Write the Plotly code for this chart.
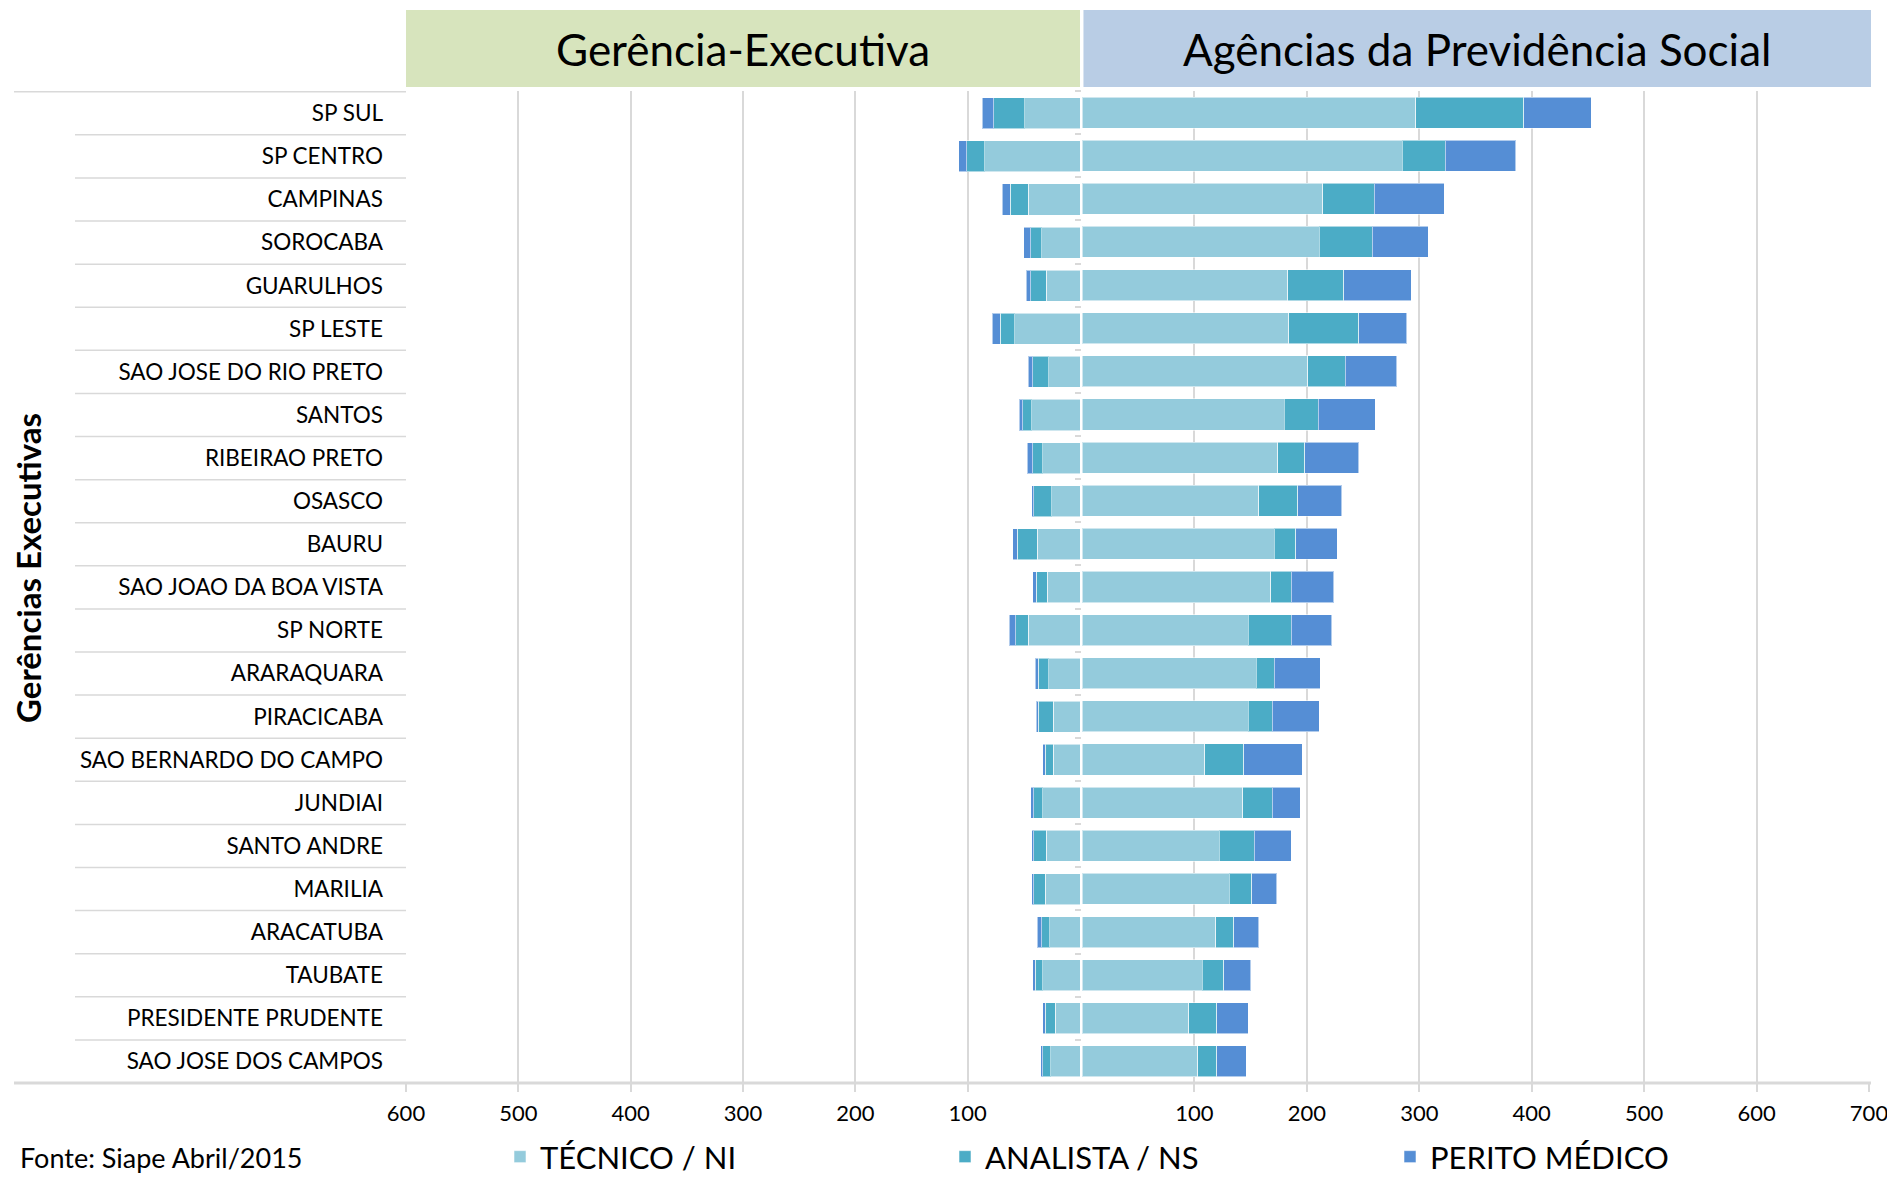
import plotly.graph_objects as go

categories = ["SP SUL", "SP CENTRO", "CAMPINAS", "SOROCABA", "GUARULHOS", "SP LESTE",
              "SAO JOSE DO RIO PRETO", "SANTOS", "RIBEIRAO PRETO", "OSASCO", "BAURU",
              "SAO JOAO DA BOA VISTA", "SP NORTE", "ARARAQUARA", "PIRACICABA",
              "SAO BERNARDO DO CAMPO", "JUNDIAI", "SANTO ANDRE", "MARILIA", "ARACATUBA",
              "TAUBATE", "PRESIDENTE PRUDENTE", "SAO JOSE DOS CAMPOS"]

# Gerência-Executiva (left side)
ge_tecnico = [49, 85, 46, 34, 30, 58, 28, 43, 33, 25, 38, 29, 46, 28, 24, 24, 33, 30, 31, 27, 33, 22, 26]
ge_analista = [28, 16, 16, 10, 14, 13, 14, 8, 9, 16, 18, 10, 11, 9, 13, 7, 8, 11, 10, 7, 7, 9, 7]
ge_perito = [10, 7, 7, 6, 4, 7, 4, 3, 5, 2, 4, 3, 6, 3, 2, 2, 3, 2, 2, 4, 2, 2, 2]

# Agências da Previdência Social (right side)
aps_tecnico = [297, 285, 214, 211, 183, 184, 201, 180, 174, 157, 171, 168, 148, 155, 148, 109, 143, 122, 131, 119, 107, 95, 103]
aps_analista = [96, 38, 46, 47, 50, 62, 33, 30, 24, 35, 19, 18, 38, 16, 21, 35, 26, 31, 20, 16, 19, 25, 17]
aps_perito = [60, 63, 62, 50, 60, 43, 46, 51, 48, 39, 37, 38, 36, 41, 42, 52, 25, 33, 22, 22, 24, 28, 26]

series_names = ["TÉCNICO / NI", "ANALISTA / NS", "PERITO MÉDICO"]
colors = ["#94CBDC", "#4BACC6", "#558ED5"]
left_ticks = [100, 200, 300, 400, 500, 600]
right_ticks = [100, 200, 300, 400, 500, 600, 700]

FONT = "Lato, 'Open Sans', sans-serif"
GRID = "#D9D9D9"

fig = go.Figure()
for name, vals, col in zip(series_names, [ge_tecnico, ge_analista, ge_perito], colors):
    fig.add_trace(go.Bar(y=categories, x=vals, orientation="h", name=name,
                         marker=dict(color=col, line=dict(color="rgba(255,255,255,0.55)", width=1)),
                         xaxis="x", yaxis="y", showlegend=True, legendgroup=name))
for name, vals, col in zip(series_names, [aps_tecnico, aps_analista, aps_perito], colors):
    fig.add_trace(go.Bar(y=categories, x=vals, orientation="h", name=name,
                         marker=dict(color=col, line=dict(color="rgba(255,255,255,0.55)", width=1)),
                         xaxis="x2", yaxis="y2", showlegend=False, legendgroup=name))

# page body has an 8px default margin: size the figure so the page is exactly 1895x1186
OFF = 8
PW, PH = 1895, 1186
W, H = PW - 2 * OFF, PH - 2 * OFF
# page-pixel positions of plot area
P_L, P_R, P_T, P_B = 406, 1869, 91, 1083
ml, mr, mt, mb = P_L - OFF, W - (P_R - OFF), P_T - OFF, H - (P_B - OFF)
pw = W - ml - mr
ph = H - mt - mb

def px_x(p):
    return (p - P_L) / pw

def px_y(p):
    return (P_B - p) / ph

def cont_y(p):
    return 1 - (p - OFF) / H

split_l = (1080 - P_L) / pw
split_r = (1082 - P_L) / pw

fig.update_layout(
    width=W, height=H,
    margin=dict(l=ml, r=mr, t=mt, b=mb, autoexpand=False),
    paper_bgcolor="white", plot_bgcolor="white",
    barmode="stack", bargap=0.28,
    font=dict(family=FONT, color="black"),
    xaxis=dict(domain=[0, split_l], range=[600, 0], tickvals=left_ticks,
               showgrid=True, gridcolor=GRID, gridwidth=2, zeroline=False,
               showline=False, ticks="outside", ticklen=8, tickcolor=GRID, tickwidth=2,
               ticklabelstandoff=3, ticklabeloverflow="allow",
               tickfont=dict(size=22, family=FONT, color="black"), anchor="y"),
    xaxis2=dict(domain=[split_r, 1], range=[0, 700], tickvals=right_ticks,
                showgrid=True, gridcolor=GRID, gridwidth=2, zeroline=False,
                showline=False, ticks="outside", ticklen=8, tickcolor=GRID, tickwidth=2,
                ticklabelstandoff=3, ticklabeloverflow="allow",
                tickfont=dict(size=22, family=FONT, color="black"), anchor="y2"),
    yaxis=dict(type="category", categoryorder="array", categoryarray=categories,
               autorange="reversed", showgrid=False, showline=False, ticks="",
               tickfont=dict(size=22.5, family=FONT, color="black"), ticklabelstandoff=22,
               anchor="x"),
    yaxis2=dict(type="category", categoryorder="array", categoryarray=categories,
                autorange="reversed", overlaying="y", anchor="x2", side="left",
                showgrid=False, showline=False, showticklabels=False,
                ticks="outside", tickson="boundaries", ticklen=6, tickcolor=GRID, tickwidth=2),
    legend=dict(orientation="h", x=px_x(500), xanchor="left",
                yref="container", y=cont_y(1157), yanchor="middle",
                font=dict(size=31, family=FONT, color="black"),
                entrywidth=400, entrywidthmode="pixels", traceorder="normal",
                itemclick=False, itemdoubleclick=False),
    showlegend=True,
)

shapes = []
# header bands
shapes.append(dict(type="rect", xref="paper", yref="paper", x0=0, x1=split_l,
                   y0=px_y(87), y1=px_y(10), fillcolor="#D7E4BD", line=dict(width=0), layer="below"))
shapes.append(dict(type="rect", xref="paper", yref="paper", x0=split_r + 0.001, x1=px_x(1871),
                   y0=px_y(87), y1=px_y(10), fillcolor="#B9CDE5", line=dict(width=0), layer="below"))
# row separators in the category label column
n = len(categories)
for i in range(n):
    x_start = px_x(14) if i == 0 else px_x(75)
    shapes.append(dict(type="line", xref="paper", yref="y", x0=x_start, x1=0,
                       y0=i - 0.5, y1=i - 0.5, line=dict(color=GRID, width=1.5)))
# bottom axis line
shapes.append(dict(type="line", xref="paper", yref="paper", x0=px_x(14), x1=px_x(1871),
                   y0=0, y1=0, line=dict(color=GRID, width=3)))
fig.update_layout(shapes=shapes)

annotations = [
    dict(text="Gerência-Executiva", xref="paper", yref="paper", x=split_l / 2, y=px_y(49),
         showarrow=False, font=dict(size=44, family=FONT, color="black"),
         xanchor="center", yanchor="middle"),
    dict(text="Agências da Previdência Social", xref="paper", yref="paper",
         x=(split_r + px_x(1871)) / 2, y=px_y(49),
         showarrow=False, font=dict(size=44, family=FONT, color="black"),
         xanchor="center", yanchor="middle"),
    dict(text="<b>Gerências Executivas</b>", xref="paper", yref="paper", x=px_x(28), y=px_y(568),
         textangle=-90, showarrow=False, font=dict(size=33, family=FONT, color="black"),
         xanchor="center", yanchor="middle"),
    dict(text="Fonte: Siape Abril/2015", xref="paper", yref="paper", x=px_x(18), y=px_y(1176),
         showarrow=False, font=dict(size=27, family=FONT, color="black"),
         xanchor="left", yanchor="bottom"),
]
fig.update_layout(annotations=annotations)

fig.write_html("out.html")
